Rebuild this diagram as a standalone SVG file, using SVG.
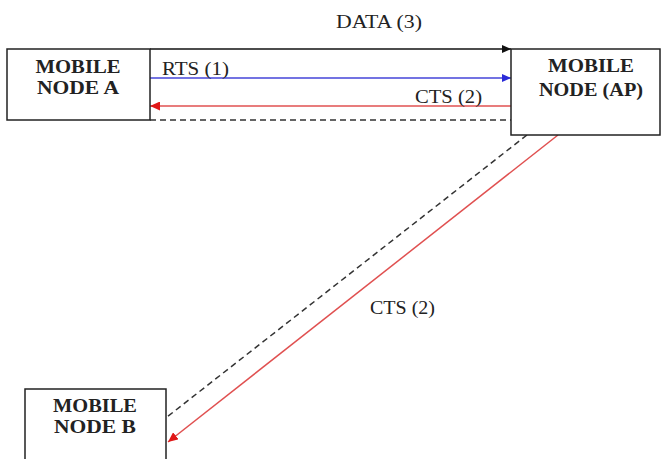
<svg xmlns="http://www.w3.org/2000/svg" width="665" height="459" viewBox="0 0 665 459">
<defs>
<style>
.box{fill:#fff;stroke:#222;stroke-width:1.5}
.nt{font-family:"Liberation Serif","Times New Roman",serif;font-weight:bold;font-size:19px;fill:#222;text-anchor:middle}
.lb{font-family:"Liberation Serif","Times New Roman",serif;font-size:19px;fill:#222}
.ln{fill:none;stroke-width:1.5}
</style>
<marker id="ak" markerWidth="9" markerHeight="8" refX="9" refY="4" orient="auto" markerUnits="userSpaceOnUse"><path d="M0,0 L9,4 L0,8 Z" fill="#111"/></marker>
<marker id="ab" markerWidth="9" markerHeight="8" refX="9" refY="4" orient="auto" markerUnits="userSpaceOnUse"><path d="M0,0 L9,4 L0,8 Z" fill="#2a2ad8"/></marker>
<marker id="ar" markerWidth="10" markerHeight="9" refX="10" refY="4.5" orient="auto" markerUnits="userSpaceOnUse"><path d="M0,0 L10,4.5 L0,9 Z" fill="#e01818"/></marker>
</defs>
<rect width="665" height="459" fill="#fff"/>
<g id="connectors">
<line class="ln" x1="150" y1="49" x2="511" y2="49" stroke="#111" marker-end="url(#ak)"/>
<line class="ln" x1="150" y1="78" x2="511" y2="78" stroke="#4444d8" marker-end="url(#ab)"/>
<line class="ln" x1="511" y1="106" x2="150" y2="106" stroke="#e05050" marker-end="url(#ar)"/>
<line class="ln" x1="150" y1="120" x2="511" y2="120" stroke="#333" stroke-dasharray="6,4"/>
<line class="ln" x1="558" y1="135" x2="168" y2="442" stroke="#e05050" marker-end="url(#ar)"/>
<line class="ln" x1="527" y1="135" x2="167" y2="417" stroke="#333" stroke-dasharray="6,4"/>
<text class="lb" x="336" y="28" textLength="86" lengthAdjust="spacingAndGlyphs">DATA (3)</text>
<text class="lb" x="162" y="75" textLength="67" lengthAdjust="spacingAndGlyphs">RTS (1)</text>
<text class="lb" x="415" y="103" textLength="67" lengthAdjust="spacingAndGlyphs">CTS (2)</text>
<text class="lb" x="370" y="314" textLength="65" lengthAdjust="spacingAndGlyphs">CTS (2)</text>
</g>
<g id="nodeA">
<rect class="box" x="7" y="49" width="143" height="71"/>
<text class="nt" x="78" y="73" textLength="85" lengthAdjust="spacingAndGlyphs">MOBILE</text>
<text class="nt" x="78" y="94" textLength="82" lengthAdjust="spacingAndGlyphs">NODE A</text>
</g>
<g id="nodeAP">
<rect class="box" x="511" y="49" width="149" height="86"/>
<text class="nt" x="591" y="72" textLength="86" lengthAdjust="spacingAndGlyphs">MOBILE</text>
<text class="nt" x="591" y="96" textLength="104" lengthAdjust="spacingAndGlyphs">NODE (AP)</text>
</g>
<g id="nodeB">
<rect class="box" x="25" y="389" width="141" height="80"/>
<text class="nt" x="95" y="412" textLength="84" lengthAdjust="spacingAndGlyphs">MOBILE</text>
<text class="nt" x="95" y="433" textLength="82" lengthAdjust="spacingAndGlyphs">NODE B</text>
</g>
</svg>
